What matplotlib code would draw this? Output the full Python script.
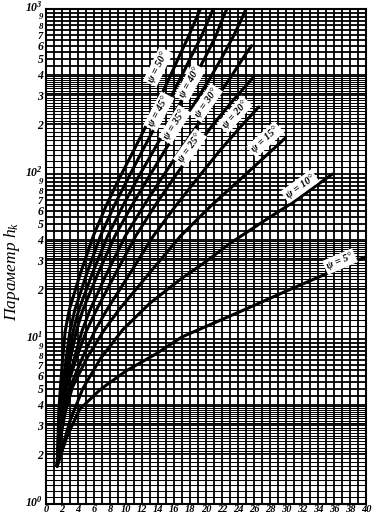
import numpy as np
import matplotlib
matplotlib.use('Agg')
import matplotlib.pyplot as plt
import matplotlib.transforms as mtransforms
from matplotlib.ticker import NullLocator

plt.rcParams['font.family'] = ['Liberation Serif', 'DejaVu Serif']
plt.rcParams['mathtext.fontset'] = 'custom'
plt.rcParams['mathtext.rm'] = 'Liberation Serif:italic:bold'
plt.rcParams['mathtext.it'] = 'Liberation Serif:italic'

# curves (x axis 0..40, parameter h_k on log scale)
psi_deg = [5, 10, 15, 20, 25, 30, 35, 40, 45, 50]

x_05 = [1.4, 2.6, 4.2, 6.8, 10, 13.7, 17, 21, 25, 30, 35, 39.8]
h_05 = [1.7, 2.55, 3.75, 4.95, 6.4, 8.1, 10.3, 12.5, 15.2, 19.5, 24.8, 31.3]

x_10 = [1.4, 3, 4.6, 6.8, 9.6, 13, 16.8, 20, 23, 27, 31, 35.8]
h_10 = [1.7, 3.2, 5.0, 7.6, 11.4, 16.5, 23, 29.5, 38, 51, 68, 100]

x_15 = [1.4, 1.8, 2.4, 3.3, 5.2, 7.2, 9.1, 12.9, 16.8, 20.6, 24.5, 28.3, 29.9]
h_15 = [1.7, 2.5, 3.6, 5.1, 7.8, 11.2, 15, 25, 42, 64, 95, 140, 165]

x_20 = [1.4, 1.75, 2.2, 3.0, 4.6, 6.1, 7.6, 10.5, 13.4, 16.2, 19.0, 21.8, 24.6, 26.6]
h_20 = [1.7, 2.5, 3.6, 5.1, 7.8, 11.2, 15, 25, 42, 64, 95, 140, 200, 255]

x_25 = [1.4, 1.65, 2.0, 2.6, 3.85, 5.05, 6.3, 8.7, 11.2, 13.6, 16.0, 18.5, 20.9, 23.4, 25.8]
h_25 = [1.7, 2.5, 3.6, 5.1, 7.8, 11.2, 15, 25, 42, 64, 95, 140, 200, 280, 380]

x_30 = [1.4, 1.7, 2.05, 2.6, 3.6, 4.5, 5.5, 7.6, 9.9, 12.2, 14.5, 16.8, 19.0, 21.1, 23.0, 24.7, 25.7]
h_30 = [1.7, 2.5, 3.6, 5.1, 7.8, 11.2, 15, 25, 42, 64, 95, 140, 200, 280, 380, 510, 600]

x_35 = [1.4, 1.65, 1.95, 2.4, 3.1, 3.8, 4.6, 6.5, 8.6, 10.7, 12.8, 14.9, 16.9, 18.8, 20.5, 22.0, 23.4, 24.5, 25.0]
h_35 = [1.7, 2.5, 3.6, 5.1, 7.8, 11.2, 15, 25, 42, 64, 95, 140, 200, 280, 380, 510, 680, 880, 1000]

x_40 = [1.4, 1.6, 1.85, 2.2, 2.85, 3.4, 4.1, 5.8, 7.7, 9.6, 11.5, 13.5, 15.3, 17.0, 18.5, 19.9, 21.2, 22.1, 22.6]
h_40 = [1.7, 2.5, 3.6, 5.1, 7.8, 11.2, 15, 25, 42, 64, 95, 140, 200, 280, 380, 510, 680, 880, 1000]

x_45 = [1.4, 1.55, 1.75, 2.05, 2.55, 3.0, 3.6, 5.1, 6.8, 8.5, 10.3, 12.1, 13.8, 15.4, 16.8, 18.1, 19.4, 20.4, 20.9]
h_45 = [1.7, 2.5, 3.6, 5.1, 7.8, 11.2, 15, 25, 42, 64, 95, 140, 200, 280, 380, 510, 680, 880, 1000]

x_50 = [1.4, 1.5, 1.6, 1.8, 2.1, 2.4, 2.9, 4.3, 5.9, 7.5, 9.2, 11.0, 12.6, 14.1, 15.4, 16.6, 17.8, 18.8, 19.3]
h_50 = [1.7, 2.5, 3.6, 5.1, 7.8, 11.2, 15, 25, 42, 64, 95, 140, 200, 280, 380, 510, 680, 880, 1000]

curves_x = [x_05, x_10, x_15, x_20, x_25, x_30, x_35, x_40, x_45, x_50]
curves_h = [h_05, h_10, h_15, h_20, h_25, h_30, h_35, h_40, h_45, h_50]

# where the psi labels sit on the chart
label_x = [36.75, 31.75, 27.4, 23.6, 18.0, 20.0, 16.1, 18.0, 14.1, 14.0]
label_h = [29.5, 84, 162, 229, 144, 270, 199, 357, 239, 446]

# graph paper rulings inside one decade
mantissa = list(np.arange(1.0, 2.0, 0.1)) + list(np.arange(2.0, 4.0, 0.1)) + list(np.arange(4.0, 10.0, 0.5))

fig = plt.figure(figsize=(3.75, 5.18), dpi=100)
ax = fig.add_axes([0.1227, 0.0270, 0.8533, 0.9556])
ax.set_xlim(0, 40)
ax.set_yscale('log')
ax.set_ylim(1, 1000)

# grid
ax.vlines(np.arange(0, 41), 1, 1000, colors='black', lw=1.3, zorder=1)
for dec in [1, 10, 100]:
    for m in mantissa:
        major = abs(m - round(m)) < 1e-6 or m >= 4
        ax.hlines(dec * m, 0, 40, colors='black', lw=1.3 if major else 0.75, zorder=1)
ax.hlines(1000, 0, 40, colors='black', lw=1.3, zorder=1)

for xs, hs in zip(curves_x, curves_h):
    ax.plot(xs, hs, color='black', lw=2.2, solid_capstyle='round', zorder=3)

for psi, xs, hs, lx, lh in zip(psi_deg, curves_x, curves_h, label_x, label_h):
    lg = np.log10(hs)
    p1 = ax.transData.transform((lx - 0.4, 10 ** np.interp(lx - 0.4, xs, lg)))
    p2 = ax.transData.transform((lx + 0.4, 10 ** np.interp(lx + 0.4, xs, lg)))
    ang = np.degrees(np.arctan2(p2[1] - p1[1], p2[0] - p1[0]))
    ax.text(lx, lh, f'ψ = {psi}°', rotation=ang, rotation_mode='anchor',
            ha='center', va='center', fontsize=7.5, fontstyle='italic', fontweight='bold',
            bbox=dict(boxstyle='square,pad=0.25', fc='white', ec='none'), zorder=4)

# ticks
ax.set_xticks(np.arange(0, 41, 2))
ax.set_xticklabels([str(v) for v in range(0, 41, 2)], fontstyle='italic', fontweight='bold', fontsize=7.5)

yt = []
yl = []
for k, dec in enumerate([1, 10, 100]):
    yt.append(dec)
    yl.append(r'$\mathrm{10^{%d}}$' % k)
    for m in range(2, 10):
        yt.append(dec * m)
        yl.append(str(m))
yt.append(1000)
yl.append(r'$\mathrm{10^{3}}$')
ax.set_yticks(yt)
ax.set_yticklabels(yl, fontstyle='italic', fontweight='bold', fontsize=8.5)
ax.yaxis.set_minor_locator(NullLocator())
ax.tick_params(axis='x', length=0, pad=1)
ax.tick_params(axis='y', length=0, pad=2)

# spread the crowded labels near each decade a little
def shift(px):
    return mtransforms.ScaledTranslation(0, px / fig.dpi, fig.dpi_scale_trans)

for t, v in zip(ax.get_yticklabels(), yt):
    lead = str(v)[0]
    if v in (1, 10, 100, 1000):
        t.set_transform(t.get_transform() + shift(3.5))
    elif lead == '9':
        t.set_fontsize(6.3)
        t.set_transform(t.get_transform() + shift(0.8))
    elif lead == '8':
        t.set_fontsize(6.5)
        t.set_transform(t.get_transform() + shift(-1.2))
    elif lead == '7':
        t.set_fontsize(7.5)
        t.set_transform(t.get_transform() + shift(-1.0))

for s in ax.spines.values():
    s.set_linewidth(1.5)

ax.set_ylabel('Параметр $h_k$', fontsize=12.5, fontstyle='italic')
ax.yaxis.set_label_coords(-0.075, 0.47)

fig.savefig('out.png', dpi=100)
